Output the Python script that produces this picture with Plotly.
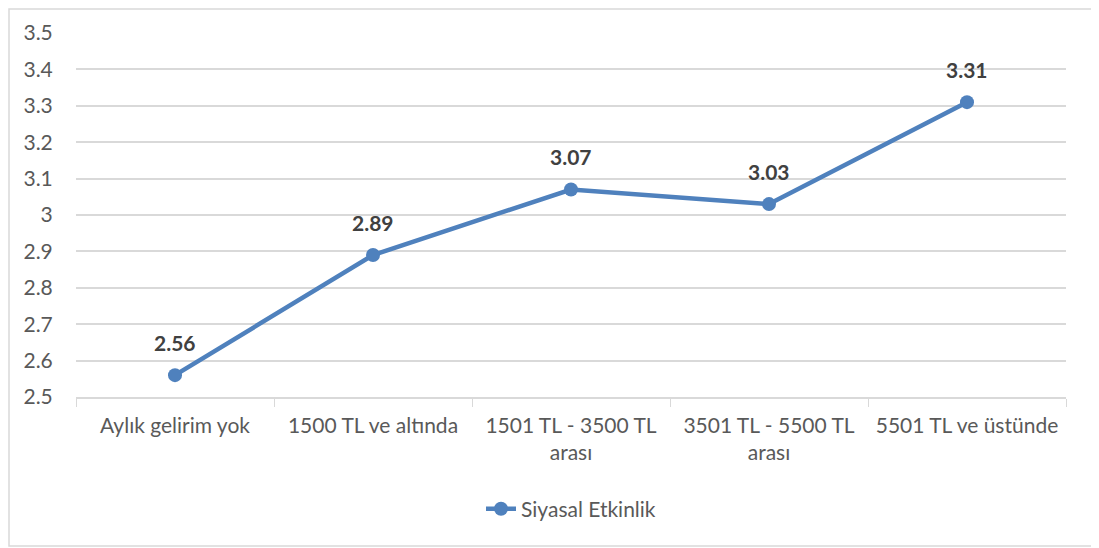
import plotly.graph_objects as go

# income groups and mean political activity score
categories = ['Aylık gelirim yok', '1500 TL ve altında', '1501 TL - 3500 TL<br>arası',
              '3501 TL - 5500 TL<br>arası', '5501 TL ve üstünde']
values = [2.56, 2.89, 3.07, 3.03, 3.31]
series_name = 'Siyasal Etkinlik'

y_ticks = [2.5, 2.6, 2.7, 2.8, 2.9, 3.0, 3.1, 3.2, 3.3, 3.4, 3.5]
y_tick_labels = ['2.5', '2.6', '2.7', '2.8', '2.9', '3', '3.1', '3.2', '3.3', '3.4', '3.5']

line_color = '#4f81bd'
text_color = '#595959'
grid_color = '#d9d9d9'
font_family = 'Lato, Open Sans, sans-serif'

# the page puts the figure 8px in from the top-left corner of the window
OFF = 8
W, H = 1099 - OFF, 548 - OFF
L, R, T, B = 76 - OFF, 33, 33 - OFF, 151
pw, ph = W - L - R, H - T - B

fig = go.Figure()

fig.add_trace(
    go.Scatter(
        x=categories,
        y=values,
        mode='lines+markers',
        name=series_name,
        line=dict(color=line_color, width=4.5),
        marker=dict(color=line_color, size=14),
    )
)

for c, v in zip(categories, values):
    fig.add_annotation(
        x=c, y=v,
        text=f'<b>{v:.2f}</b>',
        showarrow=False,
        yshift=33,
        font=dict(family=font_family, size=21, color='#404040'),
    )

# outer chart border, kept inside the figure
fig.add_shape(
    type='rect', xref='paper', yref='paper',
    x0=(1 - L) / pw, x1=(1096 - OFF - L) / pw,
    y0=(H - B - (546 - OFF)) / ph, y1=(H - B - 1) / ph,
    line=dict(color=grid_color, width=1.5),
)

fig.update_layout(
    width=W, height=H,
    margin=dict(l=L, r=R, t=T, b=B),
    paper_bgcolor='white',
    plot_bgcolor='white',
    font=dict(family=font_family, size=21, color=text_color),
    showlegend=True,
    legend=dict(
        orientation='h', x=0.5, xanchor='center', y=-0.308, yanchor='middle',
        font=dict(size=21, color=text_color),
    ),
    xaxis=dict(
        type='category',
        range=[-0.5, len(categories) - 0.5],
        showgrid=False,
        showline=True, linecolor=grid_color, linewidth=1.5,
        ticks='outside', tickson='boundaries', ticklen=8, tickcolor=grid_color,
        ticklabelstandoff=9,
        zeroline=False,
    ),
    yaxis=dict(
        range=[2.5, 3.5],
        tickmode='array',
        tickvals=y_ticks,
        ticktext=y_tick_labels,
        showgrid=True, gridcolor=grid_color, gridwidth=1.5,
        zeroline=False,
        ticks='outside', ticklen=18, tickcolor='rgba(0,0,0,0)',
    ),
)

fig.write_html('out.html')
